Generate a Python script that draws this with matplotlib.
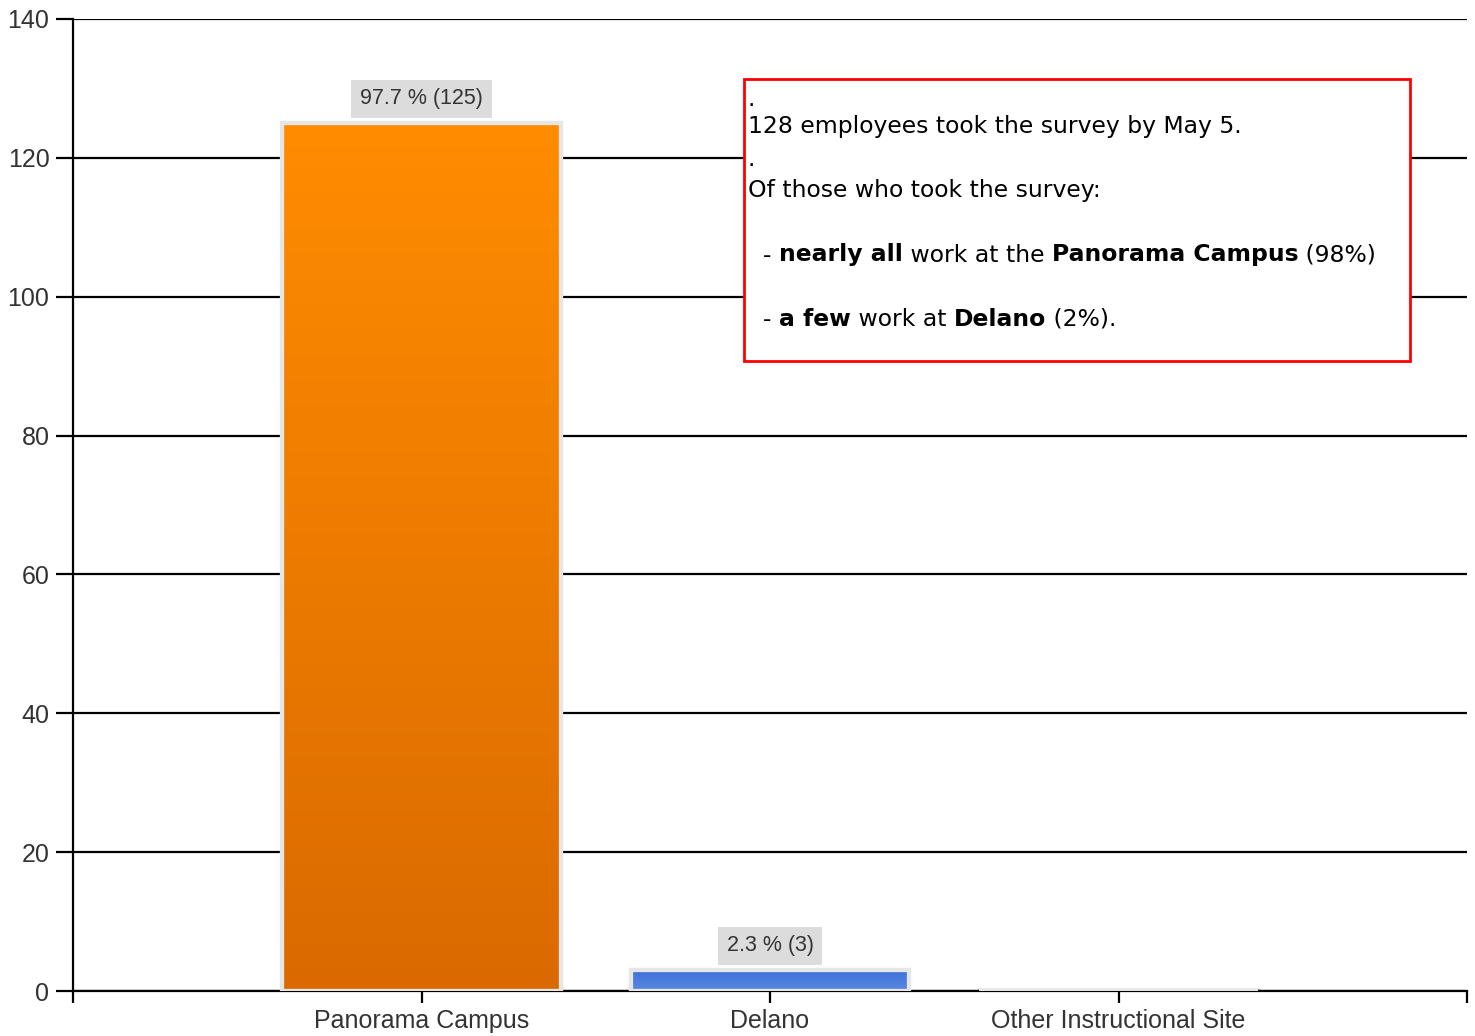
import matplotlib
matplotlib.use("Agg")
import matplotlib.pyplot as plt
import numpy as np
from matplotlib.colors import LinearSegmentedColormap
from matplotlib.patches import Rectangle

categories = ["Panorama Campus", "Delano", "Other Instructional Site"]
counts = [125, 3, 0]
percents = [97.7, 2.3, 0.0]
bar_top_colors = ["#FF8C00", "#3F72D8", "#A0A0A0"]
bar_bottom_colors = ["#DA6A00", "#5A88E2", "#A0A0A0"]
y_ticks = [0, 20, 40, 60, 80, 100, 120, 140]

narrow = ["Liberation Sans Narrow", "Liberation Sans", "DejaVu Sans"]
note_font = ["DejaVu Sans"]

fig = plt.figure(figsize=(14.75, 10.36), dpi=100)
ax = fig.add_axes([0.0495, 0.0434, 0.9451, 0.9383])

x = np.arange(len(categories))
ax.set_xlim(-1, 3)
ax.set_ylim(0, 140)

# gridlines
for yv in y_ticks:
    ax.axhline(yv, color="black", lw=1.6, zorder=1)

bars = ax.bar(x, counts, width=0.8, color="none", edgecolor="#E6E6E6",
              linewidth=3, zorder=3)

for i, b in enumerate(bars):
    if counts[i] == 0:
        ax.plot([b.get_x(), b.get_x() + b.get_width()], [0.15, 0.15], color="#B0B0B0",
                lw=2.5, zorder=2)
        continue
    cmap = LinearSegmentedColormap.from_list("g", [bar_bottom_colors[i], bar_top_colors[i]])
    grad = np.linspace(0, 1, 256).reshape(-1, 1)
    ax.imshow(grad, aspect="auto", cmap=cmap, origin="lower",
              extent=[b.get_x(), b.get_x() + b.get_width(), 0, b.get_height()],
              zorder=2.5)
    ax.add_patch(Rectangle((b.get_x(), 0), b.get_width(), b.get_height(),
                           facecolor="none", edgecolor="#E6E6E6", lw=3, zorder=3))
    ax.annotate(f"{percents[i]} % ({counts[i]})", (b.get_x() + b.get_width() / 2, b.get_height()),
                xytext=(0, 17.5), textcoords="offset points", ha="center", va="center",
                fontsize=15.5, family=narrow, color="#333333",
                bbox=dict(boxstyle="square,pad=0.4", fc="#DCDCDC", ec="none"), zorder=5)
ax.set_xlim(-1, 3)
ax.set_ylim(0, 140)

ax.set_yticks(y_ticks)
ax.set_yticklabels([str(v) for v in y_ticks], family=narrow, fontsize=18, color="#333333")
ax.set_xticks(x)
ax.set_xticklabels(categories, family=narrow, fontsize=18, color="#333333")
ax.set_xticks([-1, 3], minor=True)
ax.tick_params(axis="y", length=12, width=1.6, pad=5, direction="out")
ax.tick_params(axis="x", which="both", length=8.6, width=1.6, pad=4, direction="out")

for side in ["top", "right"]:
    ax.spines[side].set_visible(False)
ax.spines["left"].set_linewidth(1.6)
ax.spines["bottom"].set_linewidth(1.6)

# note box
box = Rectangle((744 / 1475, 1 - 361 / 1036), (1410 - 744) / 1475, (361 - 79) / 1036,
                transform=fig.transFigure, facecolor="white", edgecolor="#FF0000",
                lw=2, zorder=10)
fig.patches.append(box)

note_lines = [
    [(".", False)],
    [("128 employees took the survey by May 5.", False)],
    [(".", False)],
    [("Of those who took the survey:", False)],
    [("  - ", False), ("nearly all", True), (" work at the ", False),
     ("Panorama Campus", True), (" (98%)", False)],
    [("  - ", False), ("a few", True), (" work at ", False), ("Delano", True), (" (2%).", False)],
]
line_y = [100, 127, 160, 191, 255, 319]

renderer = fig.canvas.get_renderer()
for parts, yp in zip(note_lines, line_y):
    xp = 748
    for txt, bold in parts:
        t = fig.text(xp / 1475, 1 - yp / 1036, txt, fontsize=16.9, family=note_font,
                     fontweight="bold" if bold else "normal", va="center", ha="left",
                     zorder=11)
        xp += t.get_window_extent(renderer).width

fig.savefig("out.png", dpi=100)
